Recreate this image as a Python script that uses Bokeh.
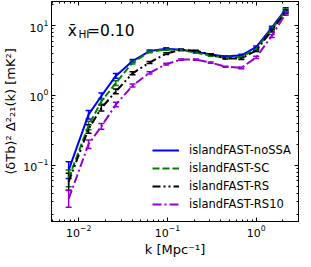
import numpy as np
from bokeh.plotting import figure
from bokeh.models import (LogAxis, FixedTicker, Whisker, TeeHead, ColumnDataSource,
                          Legend, LegendItem, CustomJSTickFormatter, Range1d)
from bokeh.core.properties import value
from bokeh.embed import file_html
from bokeh.resources import INLINE

# ---------------- data ----------------
k = [0.0077, 0.0129, 0.018, 0.0262, 0.0404, 0.0628, 0.0968, 0.142, 0.209,
     0.307, 0.451, 0.68, 1.0, 1.5, 2.15]
noSSA = [0.085, 0.53, 0.98, 1.9, 3.1, 4.3, 4.65, 4.5, 4.2, 3.85, 3.6, 3.75, 4.9, 9.3, 17.0]
SC = [0.065, 0.37, 0.82, 1.5, 2.95, 4.2, 4.55, 4.45, 4.1, 3.7, 3.45, 3.55, 4.6, 8.9, 16.3]
RS = [0.058, 0.33, 0.66, 1.14, 2.07, 2.95, 3.96, 4.5, 4.35, 3.85, 3.37, 3.37, 4.4, 8.5, 15.7]
RS10 = [0.033, 0.2, 0.36, 0.74, 1.38, 2.1, 2.8, 3.25, 3.25, 2.95, 2.57, 2.48, 3.5, 7.1, 14.8]
rel_err = [0.32, 0.15, 0.1, 0.08, 0.05, 0.035, 0.03, 0.02, 0.02, 0.02, 0.02, 0.03, 0.04, 0.05, 0.06]

names = ["islandFAST-noSSA", "islandFAST-SC", "islandFAST-RS", "islandFAST-RS10"]
series = [noSSA, SC, RS, RS10]
colors = ["#0000ff", "#008000", "#000000", "#9400d3"]
dashes = ["solid", "7 3", "8 3 2 3 2 3", "9 3 2 3"]

x_major = [0.01, 0.1, 1.0]
x_minor = [0.005, 0.006, 0.007, 0.008, 0.009, 0.02, 0.03, 0.04, 0.05, 0.06, 0.07, 0.08, 0.09,
           0.2, 0.3, 0.4, 0.5, 0.6, 0.7, 0.8, 0.9, 2.0, 3.0]
y_major = [0.1, 1.0, 10.0]
y_minor = [0.02, 0.03, 0.04, 0.05, 0.06, 0.07, 0.08, 0.09, 0.2, 0.3, 0.4, 0.5, 0.6, 0.7, 0.8,
           0.9, 2.0, 3.0, 4.0, 5.0, 6.0, 7.0, 8.0, 9.0, 20.0]

x_label = "k [Mpc\u207b\u00b9]"
y_label = "\u27e8\u03b4Tb\u27e9\u00b2 \u0394\u00b2\u2082\u2081(k) [mK\u00b2]"

FONT = "DejaVu Sans"

# ---------------- geometry (window pixels) ----------------
FL, FR, FT, FB = 49, 306, 9, 232      # plot frame


def dx(px):
    return 10 ** (-2 + (px - 77.33) / 92.33)


def dy(py):
    return 10 ** (1 - (py - 33.33) / 70.83)


p = figure(width=303, height=259, x_axis_type="log", y_axis_type="log",
           x_range=Range1d(dx(FL), dx(FR)), y_range=Range1d(dy(FB), dy(FT)),
           output_backend="svg", toolbar_location=None,
           min_border_left=FL - 8, min_border_right=311 - FR,
           min_border_top=FT - 8, min_border_bottom=267 - FB)
p.grid.visible = False
p.outline_line_color = "black"
p.outline_line_width = 1
p.background_fill_color = "white"
p.border_fill_color = "white"

for ax in (p.xaxis[0], p.yaxis[0]):
    ax.major_tick_in = 4
    ax.major_tick_out = 0
    ax.minor_tick_in = 2
    ax.minor_tick_out = 0
    ax.axis_line_color = "black"
    ax.major_tick_line_color = "black"
    ax.minor_tick_line_color = "black"
    ax.major_label_text_font = FONT
    ax.major_label_text_font_size = "11px"
    ax.major_label_text_color = "black"
    ax.axis_label_text_font = FONT
    ax.axis_label_text_font_size = "13px"
    ax.axis_label_text_font_style = "normal"
    ax.axis_label_text_color = "black"
    ax.axis_label_standoff = 2
p.xaxis[0].ticker = FixedTicker(ticks=x_major, minor_ticks=x_minor)
p.yaxis[0].ticker = FixedTicker(ticks=y_major, minor_ticks=y_minor)
p.xaxis[0].major_label_standoff = 3
p.yaxis[0].major_label_standoff = 3
p.xaxis[0].axis_label = x_label
p.yaxis[0].axis_label = y_label

for side, tm, tn in (("above", x_major, x_minor), ("right", y_major, y_minor)):
    ax = LogAxis(ticker=FixedTicker(ticks=tm, minor_ticks=tn),
                 formatter=CustomJSTickFormatter(code="return ''"),
                 major_label_text_font_size="0px", major_label_standoff=0,
                 major_tick_in=4, major_tick_out=0, minor_tick_in=2, minor_tick_out=0,
                 axis_line_color="black", major_tick_line_color="black",
                 minor_tick_line_color="black")
    p.add_layout(ax, side)

items = []
for name, vals, c, d in zip(names, series, colors, dashes):
    lo = [v / (1 + e) for v, e in zip(vals, rel_err)]
    hi = [v * (1 + e) for v, e in zip(vals, rel_err)]
    src = ColumnDataSource(dict(k=k, v=vals, lo=lo, hi=hi))
    r = p.line("k", "v", source=src, line_color=c, line_width=2, line_dash=d)
    w = Whisker(base="k", upper="hi", lower="lo", source=src, dimension="height",
                line_color=c, line_width=1.5,
                upper_head=TeeHead(size=6, line_color=c, line_width=1.5),
                lower_head=TeeHead(size=6, line_color=c, line_width=1.5))
    p.add_layout(w)
    items.append(LegendItem(label=name, renderers=[r]))

legend = Legend(items=items, location=(101, 9), label_text_font=FONT,
                label_text_font_size="11.5px", label_text_color="black",
                glyph_width=27, glyph_height=16, label_height=16, spacing=2,
                padding=4, margin=0, label_standoff=10,
                border_line_color=None, background_fill_alpha=0)
p.add_layout(legend)


def txt(fig, text, x, y, size, style="normal"):
    fig.text(x=[x], y=[y], text=[text], text_font=value(FONT),
             text_font_size=f"{size}px", text_font_style=style, text_color="black",
             text_align="left", text_baseline="alphabetic")


# title inside the frame (data units)
txt(p, "x\u0304", dx(66), dy(38.5), 15.5)
txt(p, "HI", dx(77), dy(41.5), 10.5)
txt(p, "=0.10", dx(86), dy(38.5), 15.5)

open("out.html", "w").write(file_html(p, INLINE))
